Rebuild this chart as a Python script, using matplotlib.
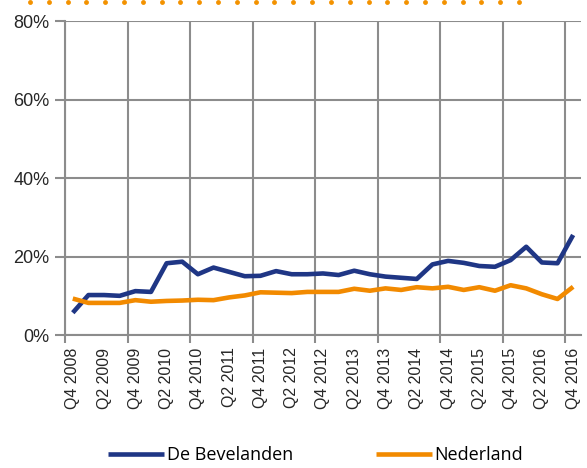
import numpy as np
import matplotlib.pyplot as plt
from matplotlib.lines import Line2D

plt.rcParams['font.family'] = ['Liberation Sans', 'DejaVu Sans']

quarters = ['Q4 2008', 'Q1 2009', 'Q2 2009', 'Q3 2009', 'Q4 2009', 'Q1 2010', 'Q2 2010', 'Q3 2010',
            'Q4 2010', 'Q1 2011', 'Q2 2011', 'Q3 2011', 'Q4 2011', 'Q1 2012', 'Q2 2012', 'Q3 2012',
            'Q4 2012', 'Q1 2013', 'Q2 2013', 'Q3 2013', 'Q4 2013', 'Q1 2014', 'Q2 2014', 'Q3 2014',
            'Q4 2014', 'Q1 2015', 'Q2 2015', 'Q3 2015', 'Q4 2015', 'Q1 2016', 'Q2 2016', 'Q3 2016',
            'Q4 2016']
bevelanden = [5.7, 10.2, 10.2, 10.0, 11.2, 11.0, 18.3, 18.7, 15.5, 17.2, 16.1, 15.0, 15.1, 16.3,
              15.5, 15.5, 15.7, 15.3, 16.4, 15.5, 14.9, 14.6, 14.3, 18.0, 18.9, 18.4, 17.6, 17.4,
              19.1, 22.5, 18.5, 18.3, 25.5]
nederland = [9.3, 8.2, 8.2, 8.2, 8.9, 8.5, 8.7, 8.8, 9.0, 8.9, 9.6, 10.1, 10.9, 10.8, 10.7, 11.0,
             11.0, 11.0, 11.8, 11.3, 11.9, 11.5, 12.2, 11.9, 12.3, 11.5, 12.2, 11.3, 12.7, 11.9,
             10.4, 9.2, 12.3]

blue = '#1f3685'
orange = '#f28a00'
grid = '#8c8c8c'

fig = plt.figure(figsize=(5.87, 4.68), dpi=100)
ax = fig.add_axes([0.1107, 0.284, 0.879, 0.671])

x = np.arange(len(quarters))
ax.plot(x, bevelanden, color=blue, lw=3.3, solid_capstyle='butt', label='De Bevelanden', zorder=3)
ax.plot(x, nederland, color=orange, lw=3.3, solid_capstyle='butt', label='Nederland', zorder=3)

ax.set_xlim(-0.5, len(quarters) - 0.5)
ax.set_ylim(0, 80)

ax.set_yticks([0, 20, 40, 60, 80])
ax.set_yticklabels(['0%', '20%', '40%', '60%', '80%'])
ax.set_xticks(x[::2])
ax.set_xticklabels(quarters[::2], rotation=90)
ax.set_xticks(np.arange(-0.5, len(quarters), 4), minor=True)

ax.tick_params(axis='x', which='major', length=0, pad=9, labelsize=11.5, labelcolor='#262626')
ax.tick_params(axis='x', which='minor', length=6, width=1.5, color=grid, direction='out')
ax.tick_params(axis='y', length=7, width=1.5, color=grid, labelsize=13, labelcolor='#262626', pad=4)

ax.grid(True, axis='y', which='major', color=grid, lw=1.5)
ax.grid(True, axis='x', which='minor', color=grid, lw=1.5)
ax.set_axisbelow(True)

for s in ['top', 'right']:
    ax.spines[s].set_visible(False)
for s in ['left', 'bottom']:
    ax.spines[s].set_color(grid)
    ax.spines[s].set_linewidth(1.5)

fig.legend(loc='center', bbox_to_anchor=(0.5375, 0.028), ncol=2, frameon=False,
           borderpad=0.1, prop={'family': ['Open Sans', 'DejaVu Sans'], 'size': 13},
           handlelength=3.1, handletextpad=0.12, columnspacing=4.6)

# decorative dotted rule at the top
dots_x = np.linspace(30 / 587, 519 / 587, 27)
fig.add_artist(Line2D(dots_x, np.full(27, 1 - 2 / 468), transform=fig.transFigure,
                      ls='none', marker='o', ms=3.5, color='#f39200', mec='none'))

fig.savefig('out.png', dpi=100)
